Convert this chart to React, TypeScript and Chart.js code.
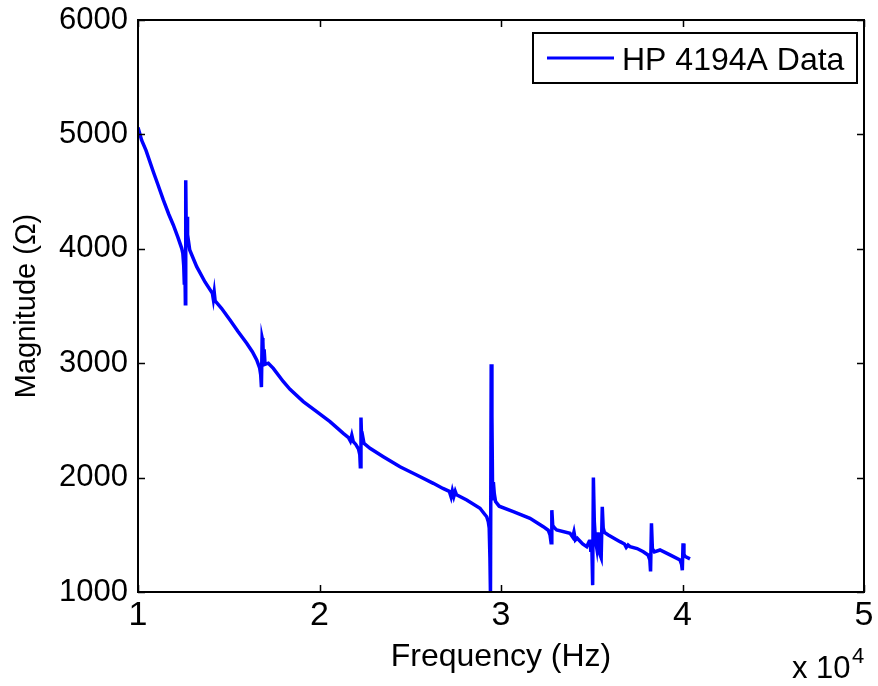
import React, { useEffect, useRef } from "react";
import { Chart, registerables } from "chart.js";

Chart.register(...registerables);

// Frequency in Hz
const freqHz: number[] = [
  10000, 10200, 10441, 10843, 11100, 11394, 11700, 11945, 12200, 12408,
  12470, 12520, 12550, 12580, 12610, 12630, 12660, 12700, 12730, 12770, 12850,
  13234, 13691, 14100, 14150, 14200, 14250, 14600, 15069, 15500, 15989, 16300, 16540, 16700,
  16760, 16800, 16840, 16880, 16910, 16950, 17000, 17180,
  17455, 18000, 18375, 19107, 19846, 20578, 21000, 21311, 21600, 21700, 21780, 21862, 22000,
  22150, 22220, 22250, 22285, 22320, 22380, 22450,
  22782, 23515, 24435, 25355, 26270, 26800, 27150, 27250, 27320, 27400, 27480, 27550,
  28110, 28843, 29100, 29212, 29300,
  29350, 29390, 29420, 29460, 29500, 29540, 29580, 29630, 29700, 29900,
  30678, 31598, 32331, 32600,
  32700, 32760, 32800, 32850, 32950,
  33068, 33802, 33950, 34020, 34100, 34200, 34500, 34722,
  34850, 34900, 34950, 35000, 35050, 35090, 35140, 35200, 35280, 35350, 35450, 35520, 35580, 35630, 35700,
  35912, 36557, 36800, 36900, 37000, 37107, 37500, 37840, 38100,
  38200, 38240, 38290, 38340, 38450,
  38760, 39311, 39862, 39950, 39990, 40030, 40080, 40150, 40413,
];

// Impedance magnitude in ohms
const magnitudeOhm: number[] = [
  5060, 4950, 4860, 4674, 4560, 4427, 4300, 4208, 4100, 4004,
  3960, 3850, 3700, 3930, 3520, 4600, 4120, 4280, 4030, 4080, 3990,
  3844, 3710, 3610, 3560, 3620, 3545, 3480, 3378, 3280, 3174, 3100, 3028, 2960,
  2900, 2790, 3220, 3190, 3040, 3120, 2990, 3000,
  2955, 2840, 2772, 2664, 2576, 2489, 2430, 2387, 2350, 2320, 2370, 2314, 2290,
  2250, 2200, 2095, 2525, 2340, 2360, 2300,
  2256, 2183, 2095, 2023, 1950, 1905, 1880, 1830, 1885, 1835, 1880, 1850,
  1804, 1732, 1680, 1658, 1615,
  1560, 1300, 980, 2990, 2540, 1800, 1960, 1860, 1790, 1750,
  1702, 1644, 1571, 1540,
  1500, 1430, 1715, 1580, 1560,
  1542, 1513, 1480, 1525, 1455, 1470, 1420, 1396,
  1440, 1460, 1350, 1440, 1060, 2000, 1620, 1460, 1380, 1520, 1330, 1300, 1745, 1560, 1520,
  1498, 1440, 1420, 1390, 1410, 1396, 1380, 1352, 1324,
  1280, 1180, 1600, 1380, 1350,
  1367, 1324, 1280, 1240, 1190, 1425, 1330, 1310, 1290,
];

const yTicks: number[] = [1000, 2000, 3000, 4000, 5000, 6000];
const xTicks: number[] = [10000, 20000, 30000, 40000, 50000];
const seriesLabel = "HP 4194A Data";
const xTitle = "Frequency (Hz)";
const yTitle = "Magnitude (\u03A9)";
const exponentBase = "x 10";
const exponentPower = "4";

const FONT = "'Liberation Sans', Arial, Helvetica, sans-serif";

const matlabPlugin = {
  id: "matlabBox",
  afterDraw(chart: any) {
    const { ctx, chartArea: a, scales } = chart;
    ctx.save();
    ctx.strokeStyle = "#000";
    ctx.lineWidth = 1.5;
    const tl = 7;
    ctx.beginPath();
    for (const v of xTicks) {
      const px = Math.round(scales.x.getPixelForValue(v)) + 0.5;
      ctx.moveTo(px, a.bottom);
      ctx.lineTo(px, a.bottom - tl);
      ctx.moveTo(px, a.top);
      ctx.lineTo(px, a.top + tl);
    }
    for (const v of yTicks) {
      const py = Math.round(scales.y.getPixelForValue(v)) + 0.5;
      ctx.moveTo(a.left, py);
      ctx.lineTo(a.left + tl, py);
      ctx.moveTo(a.right, py);
      ctx.lineTo(a.right - tl, py);
    }
    ctx.stroke();
    ctx.lineWidth = 2;
    ctx.strokeRect(a.left, a.top, a.right - a.left, a.bottom - a.top);

    // legend
    const lw = 324;
    const lh = 50;
    const lx = a.right - 7 - lw;
    const ly = a.top + 13;
    ctx.fillStyle = "#fff";
    ctx.fillRect(lx, ly, lw, lh);
    ctx.lineWidth = 2;
    ctx.strokeStyle = "#000";
    ctx.strokeRect(lx, ly, lw, lh);
    ctx.strokeStyle = "#0000ff";
    ctx.lineWidth = 3;
    ctx.beginPath();
    ctx.moveTo(lx + 14, ly + 25);
    ctx.lineTo(lx + 81, ly + 25);
    ctx.stroke();
    ctx.fillStyle = "#000";
    ctx.font = `32px ${FONT}`;
    ctx.textAlign = "left";
    ctx.textBaseline = "alphabetic";
    ctx.fillText(seriesLabel, lx + 89, ly + 37);

    // exponent label
    ctx.font = `31px ${FONT}`;
    ctx.fillText(exponentBase, a.right - 72, 678);
    ctx.font = `22px ${FONT}`;
    ctx.fillText(exponentPower, a.right - 12, 663);
    ctx.restore();
  },
};

export default function App() {
  const canvasRef = useRef<HTMLCanvasElement | null>(null);

  useEffect(() => {
    const canvas = canvasRef.current;
    if (!canvas) return;
    const points = freqHz.map((f, i) => ({ x: f, y: magnitudeOhm[i] }));
    const chart = new Chart(canvas, {
      type: "line",
      data: {
        datasets: [
          {
            label: seriesLabel,
            data: points,
            borderColor: "#0000ff",
            backgroundColor: "#0000ff",
            borderWidth: 3.5,
            pointRadius: 0,
            tension: 0,
            fill: false,
          },
        ],
      },
      options: {
        animation: false,
        responsive: false,
        devicePixelRatio: 1,
        layout: { padding: { left: 0, right: 14, top: 20, bottom: 0 } },
        plugins: {
          legend: { display: false },
          tooltip: { enabled: false },
        },
        scales: {
          x: {
            type: "linear",
            min: 10000,
            max: 50000,
            afterFit: (s: any) => {
              s.height = 94;
              s.paddingLeft = 0;
              s.paddingRight = 0;
            },
            afterBuildTicks: (s: any) => {
              s.ticks = xTicks.map((v) => ({ value: v }));
            },
            grid: { display: false, drawTicks: false },
            border: { display: false },
            ticks: {
              padding: 3,
              color: "#000",
              font: { family: FONT, size: 34 },
              maxRotation: 0,
              callback: (v: any) => String(Number(v) / 10000),
            },
            title: {
              display: true,
              text: xTitle,
              color: "#000",
              font: { family: FONT, size: 32 },
              padding: { top: 0, bottom: 10 },
            },
          },
          y: {
            type: "linear",
            min: 1000,
            max: 6000,
            afterFit: (s: any) => {
              s.width = 138;
              s.paddingTop = 0;
              s.paddingBottom = 0;
            },
            afterBuildTicks: (s: any) => {
              s.ticks = yTicks.map((v) => ({ value: v }));
            },
            grid: { display: false, drawTicks: false },
            border: { display: false },
            ticks: {
              padding: 10,
              color: "#000",
              font: { family: FONT, size: 31 },
              callback: (v: any) => String(v),
            },
            title: {
              display: true,
              text: yTitle,
              color: "#000",
              font: { family: FONT, size: 29 },
              padding: { top: 10, bottom: 0 },
            },
          },
        },
      },
      plugins: [matlabPlugin],
    });
    return () => chart.destroy();
  }, []);

  return (
    <div style={{ position: "absolute", left: 0, top: 0, width: 878, height: 686, background: "#fff" }}>
      <canvas ref={canvasRef} width={878} height={686} style={{ display: "block" }} />
    </div>
  );
}
